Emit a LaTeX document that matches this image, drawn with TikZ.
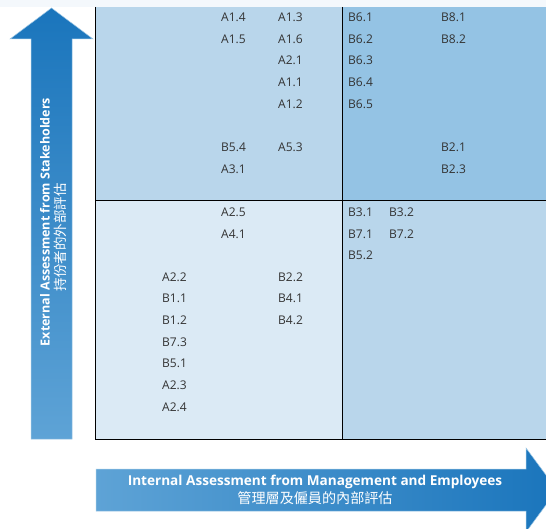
\documentclass[tikz,border=0pt]{standalone}
\usepackage{fontspec}
\setmainfont{Open Sans}
\newfontfamily\cjk{Noto Sans CJK TC}
\definecolor{qTL}{HTML}{B9D6EB}
\definecolor{qTR}{HTML}{94C3E4}
\definecolor{qBL}{HTML}{DBEAF5}
\definecolor{qBR}{HTML}{B9D6EB}
\definecolor{topbg}{HTML}{F4F8FC}
\definecolor{arrDark}{HTML}{1A75BC}
\definecolor{arrLight}{HTML}{5EA3D6}
\definecolor{txt}{HTML}{333333}
\begin{document}
\begin{tikzpicture}[x=1pt,y=-1pt,
  lbl/.style={anchor=west,inner sep=0pt,text=txt,font=\fontsize{12}{14}\selectfont},
  arrtxt/.style={inner sep=0pt,text=white,font=\bfseries\fontsize{12.5}{14}\selectfont},
  arrcjk/.style={inner sep=0pt,text=white,font=\cjk\fontsize{13.5}{14}\selectfont},
  gridline/.style={draw=black,line width=1pt}]
\clip (0,0) rectangle (546,529);
\fill[white] (0,0) rectangle (546,529);
\fill[topbg] (0,0) rectangle (546,7);
% quadrants
\fill[qTL] (95,7) rectangle (342,201);
\fill[qTR] (342,7) rectangle (546,201);
\fill[qBL] (95,201) rectangle (342,439);
\fill[qBR] (342,201) rectangle (546,439);
\draw[gridline] (95,7) -- (95,439) -- (546,439);
\draw[gridline] (342,7) -- (342,439);
\draw[gridline] (95,201) -- (546,201);
% vertical arrow
\shade[top color=arrDark,bottom color=arrLight,draw=arrLight!60!white,line width=0.5pt]
  (31,439) -- (31,39) -- (10,39) -- (51.5,8) -- (93,39) -- (72,39) -- (72,439) -- cycle;
\node[arrtxt,rotate=90] (vEn) at (45,222) {External Assessment from Stakeholders};
\node[arrcjk,rotate=90] (vZh) at (60,237) {持份者的外部評估};
% horizontal arrow
\shade[left color=arrLight,right color=arrDark,draw=arrLight!60!white,line width=0.5pt]
  (96,469) -- (526,469) -- (526,448) -- (557,490) -- (526,532) -- (526,511) -- (96,511) -- cycle;
\node[arrtxt,font=\bfseries\fontsize{13.6}{15}\selectfont] (hEn) at (315,482) {Internal Assessment from Management and Employees};
\node[arrcjk,font=\cjk\fontsize{14.1}{15}\selectfont] (hZh) at (315,498) {管理層及僱員的內部評估};
% top-left quadrant
\node[lbl] (a14) at (221,17) {A1.4};
\node[lbl] (a15) at (221,39) {A1.5};
\node[lbl] (a13) at (278,17) {A1.3};
\node[lbl] (a16) at (278,39) {A1.6};
\node[lbl] (a21) at (278,60) {A2.1};
\node[lbl] (a11) at (278,82) {A1.1};
\node[lbl] (a12) at (278,104) {A1.2};
\node[lbl] (b54) at (221,147) {B5.4};
\node[lbl] (a31) at (221,169) {A3.1};
\node[lbl] (a53) at (278,147) {A5.3};
% top-right quadrant
\node[lbl] (b61) at (348,17) {B6.1};
\node[lbl] (b62) at (348,39) {B6.2};
\node[lbl] (b63) at (348,60) {B6.3};
\node[lbl] (b64) at (348,82) {B6.4};
\node[lbl] (b65) at (348,104) {B6.5};
\node[lbl] (b81) at (441,17) {B8.1};
\node[lbl] (b82) at (441,39) {B8.2};
\node[lbl] (b21) at (441,147) {B2.1};
\node[lbl] (b23) at (441,169) {B2.3};
% bottom-left quadrant
\node[lbl] (a25) at (221,212) {A2.5};
\node[lbl] (a41) at (221,234) {A4.1};
\node[lbl] (a22) at (162,277) {A2.2};
\node[lbl] (b11) at (162,298) {B1.1};
\node[lbl] (b12) at (162,320) {B1.2};
\node[lbl] (b73) at (162,342) {B7.3};
\node[lbl] (b51) at (162,363) {B5.1};
\node[lbl] (a23) at (162,385) {A2.3};
\node[lbl] (a24) at (162,407) {A2.4};
\node[lbl] (b22) at (278,277) {B2.2};
\node[lbl] (b41) at (278,298) {B4.1};
\node[lbl] (b42) at (278,320) {B4.2};
% bottom-right quadrant
\node[lbl] (b31) at (348,212) {B3.1};
\node[lbl] (b32) at (389,212) {B3.2};
\node[lbl] (b71) at (348,234) {B7.1};
\node[lbl] (b72) at (389,234) {B7.2};
\node[lbl] (b52) at (348,255) {B5.2};
\end{tikzpicture}
\end{document}
